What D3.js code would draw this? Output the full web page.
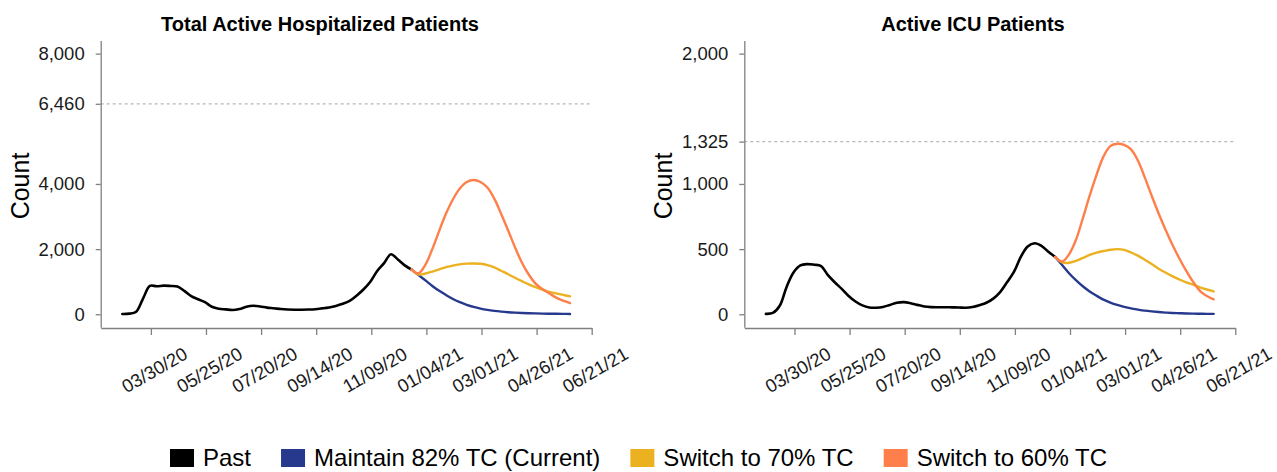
<!DOCTYPE html>
<html>
<head>
<meta charset="utf-8">
<script src="https://cdn.jsdelivr.net/npm/d3@7"></script>
<style>
  body { margin: 0; background: #fff; }
  text { font-family: "Liberation Sans", Arial, Helvetica, sans-serif; }
</style>
</head>
<body>
<svg id="chart" width="1277" height="472"></svg>
<script>
// Observed series: weekly values starting 2020-03-01
const pastStart = "2020-03-01";
const hospPast = [10, 20, 80, 480, 870, 860, 880, 870, 850, 720,
  560, 460, 370, 230, 170, 150, 130, 160, 230, 260,
  240, 205, 185, 160, 145, 140, 140, 145, 155, 180,
  210, 255, 320, 410, 570, 760, 1000, 1330, 1570, 1840,
  1680, 1500, 1370];
const icuPast = [3, 10, 65, 210, 320, 375, 385, 380, 370, 300,
  245, 195, 140, 98, 68, 52, 50, 56, 72, 88,
  93, 85, 72, 60, 55, 54, 54, 53, 52, 50,
  56, 70, 88, 120, 170, 245, 325, 440, 520, 545,
  525, 480, 440];

// Projected scenarios: weekly values starting 2020-12-20
const projStart = "2020-12-20";
const hospMaintain = [1370, 1200, 1040, 870, 720, 590, 470, 370, 290, 225,
  175, 135, 105, 82, 64, 50, 40, 32, 26, 21, 17, 14, 12, 10];
const hosp70 = [1370, 1220, 1250, 1310, 1380, 1445, 1495, 1530, 1553, 1560,
  1550, 1510, 1440, 1335, 1230, 1120, 1015, 915, 830, 760, 690, 640, 595, 550];
const hosp60 = [1370, 1260, 1520, 2000, 2560, 3090, 3530, 3860, 4060, 4120,
  4060, 3890, 3550, 3080, 2580, 2060, 1590, 1220, 940, 770, 640, 510, 420, 345];
const icuMaintain = [440, 378, 315, 262, 215, 175, 142, 112, 90, 72,
  57, 45, 36, 28, 22, 17, 13, 10, 8, 6, 5, 4, 3, 3];
const icu70 = [440, 398, 395, 410, 432, 455, 473, 485, 495, 500,
  494, 474, 450, 418, 385, 350, 320, 293, 268, 245, 227, 207, 190, 175];
const icu60 = [440, 405, 460, 570, 735, 910, 1070, 1210, 1290, 1308,
  1300, 1265, 1180, 1050, 910, 775, 650, 535, 430, 335, 250, 180, 140, 115];

// Axis ticks and reference capacities
const xTickLabels = ["03/30/20", "05/25/20", "07/20/20", "09/14/20", "11/09/20",
  "01/04/21", "03/01/21", "04/26/21", "06/21/21"];
const hospTicks = [0, 2000, 4000, 6460, 8000];
const icuTicks = [0, 500, 1000, 1325, 2000];
const hospCapacity = 6460;
const icuCapacity = 1325;
const xDomain = ["2020-02-08", "2021-06-21"];

const seriesNames = ["Past", "Maintain 82% TC (Current)", "Switch to 70% TC", "Switch to 60% TC"];
const seriesColors = ["#000000", "#26398c", "#ebb120", "#ff7f4a"];

const parse = d3.timeParse("%Y-%m-%d");
const fmtTick = d3.timeParse("%m/%d/%y");

function weekly(start, values) {
  const s = parse(start);
  return values.map((v, i) => ({ date: d3.timeDay.offset(s, 7 * i), value: v }));
}

const svg = d3.select("#chart");

const panelW = 491;
const yTop = 40.6, yBottom = 327.3;

function drawPanel(opts) {
  const g = svg.append("g").attr("transform", `translate(${opts.left},0)`);

  const x = d3.scaleTime().domain(xDomain.map(parse)).range([0, panelW]);
  const y = d3.scaleLinear().domain(opts.yDomain).range([yBottom, yTop]);

  // capacity reference line
  g.append("line")
    .attr("x1", 0).attr("x2", panelW)
    .attr("y1", y(opts.capacity)).attr("y2", y(opts.capacity))
    .attr("stroke", "#b8b8b8").attr("stroke-width", 1.2)
    .attr("stroke-dasharray", "3,3");

  // y axis
  const yAxis = g.append("g")
    .call(d3.axisLeft(y).tickValues(opts.ticks).tickFormat(d3.format(","))
      .tickSize(5).tickSizeOuter(0).tickPadding(11));
  yAxis.select(".domain").attr("stroke", "#808080").attr("stroke-width", 1.3);
  yAxis.selectAll(".tick line").attr("stroke", "#808080").attr("stroke-width", 1.3);
  yAxis.selectAll(".tick text").attr("font-size", 18.5).attr("fill", "#1a1a1a")
    .attr("font-family", "Liberation Sans, Arial, sans-serif");

  // x axis
  const xAxis = g.append("g").attr("transform", `translate(0,${yBottom + 0.7})`)
    .call(d3.axisBottom(x).tickValues(xTickLabels.map(fmtTick))
      .tickFormat(d3.timeFormat("%m/%d/%y"))
      .tickSize(7).tickSizeOuter(0));
  xAxis.select(".domain").attr("stroke", "#808080").attr("stroke-width", 1.3);
  xAxis.selectAll(".tick line").attr("stroke", "#808080").attr("stroke-width", 1.3);
  xAxis.selectAll(".tick text")
    .attr("y", 0).attr("dy", "0.35em")
    .attr("transform", "translate(3,42) rotate(-30)")
    .attr("text-anchor", "middle")
    .attr("font-size", 18.5).attr("fill", "#1a1a1a")
    .attr("font-family", "Liberation Sans, Arial, sans-serif");

  const line = d3.line()
    .x(d => x(d.date)).y(d => y(d.value))
    .curve(d3.curveCatmullRom.alpha(0.5));

  const series = [
    { data: weekly(pastStart, opts.past), color: seriesColors[0], width: 2.6 },
    { data: weekly(projStart, opts.maintain), color: seriesColors[1], width: 2.4 },
    { data: weekly(projStart, opts.s70), color: seriesColors[2], width: 2.4 },
    { data: weekly(projStart, opts.s60), color: seriesColors[3], width: 2.4 }
  ];
  g.selectAll("path.series").data(series).join("path")
    .attr("class", "series")
    .attr("d", d => line(d.data))
    .attr("fill", "none")
    .attr("stroke", d => d.color)
    .attr("stroke-width", d => d.width)
    .attr("stroke-linejoin", "round")
    .attr("stroke-linecap", "round");

  // title
  g.append("text")
    .attr("x", opts.titleX - opts.left).attr("y", 31)
    .attr("text-anchor", "middle")
    .attr("font-size", 20).attr("font-weight", "bold").attr("fill", "#000")
    .text(opts.title);

  // y axis title
  g.append("text")
    .attr("transform", `translate(${opts.countX - opts.left},${186}) rotate(-90)`)
    .attr("text-anchor", "middle")
    .attr("font-size", 25).attr("fill", "#000")
    .text("Count");
}

drawPanel({
  left: 100.7, title: "Total Active Hospitalized Patients", titleX: 320,
  yDomain: [-400, 8400], ticks: hospTicks, capacity: hospCapacity,
  past: hospPast, maintain: hospMaintain, s70: hosp70, s60: hosp60, countX: 28.5
});
drawPanel({
  left: 744.3, title: "Active ICU Patients", titleX: 973,
  yDomain: [-100, 2100], ticks: icuTicks, capacity: icuCapacity,
  past: icuPast, maintain: icuMaintain, s70: icu70, s60: icu60, countX: 672
});

// legend
const legend = svg.append("g");
const sw = 24, sh = 18, gap = 9, itemGap = 30;
let cx = 0;
seriesNames.forEach((name, i) => {
  const item = legend.append("g").attr("transform", `translate(${cx},0)`);
  item.append("rect").attr("x", 0).attr("y", -sh / 2).attr("width", sw).attr("height", sh)
    .attr("fill", seriesColors[i]);
  const t = item.append("text").attr("x", sw + gap).attr("y", 0).attr("dy", "0.35em")
    .attr("font-size", 24).attr("fill", "#000").text(name);
  cx += sw + gap + t.node().getComputedTextLength() + itemGap;
});
const legendW = cx - itemGap;
legend.attr("transform", `translate(${(1277 - legendW) / 2},458)`);
</script>
</body>
</html>
